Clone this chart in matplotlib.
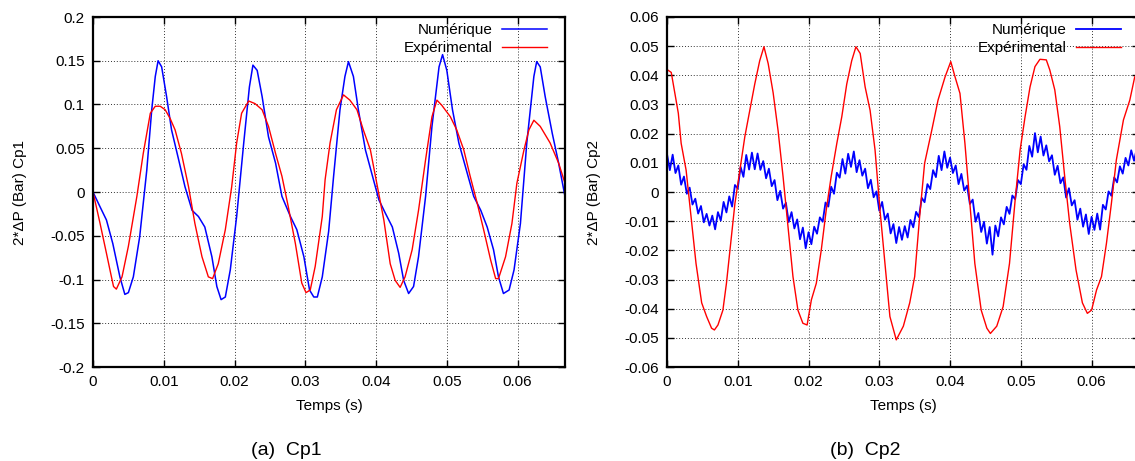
import numpy as np
import matplotlib
matplotlib.use("Agg")
import matplotlib.pyplot as plt
from matplotlib.ticker import FuncFormatter, MultipleLocator

plt.rcParams['font.family'] = ['Liberation Sans', 'DejaVu Sans']

# Cp1 - numerique
t_num1 = [0, 0.0010, 0.0019, 0.0028, 0.0038, 0.0045, 0.0050, 0.0057, 0.0066, 0.0076,
          0.0083, 0.0088, 0.0092, 0.0097, 0.0104, 0.0111, 0.0121, 0.0130, 0.0140, 0.0149,
          0.0158, 0.0168, 0.0175, 0.0181, 0.0187, 0.0194, 0.0203, 0.0213, 0.0221, 0.0226,
          0.0232, 0.0239, 0.0248, 0.0258, 0.0267, 0.0279, 0.0288, 0.0298, 0.0306, 0.0312,
          0.0317, 0.0324, 0.0333, 0.0340, 0.0349, 0.0356, 0.0361, 0.0368, 0.0375, 0.0385,
          0.0394, 0.0404, 0.0413, 0.0423, 0.0432, 0.0439, 0.0446, 0.0453, 0.0460, 0.0470,
          0.0479, 0.0489, 0.0494, 0.0500, 0.0508, 0.0517, 0.0529, 0.0538, 0.0548, 0.0557,
          0.0566, 0.0573, 0.0580, 0.0588, 0.0595, 0.0604, 0.0613, 0.0623, 0.0627, 0.0632,
          0.0639, 0.0649, 0.0658, 0.0667]
cp1_num = [0, -0.017, -0.032, -0.059, -0.097, -0.117, -0.115, -0.097, -0.051, 0.025,
           0.094, 0.132, 0.150, 0.143, 0.109, 0.071, 0.037, 0.006, -0.021, -0.028,
           -0.040, -0.074, -0.108, -0.123, -0.120, -0.089, -0.028, 0.056, 0.120, 0.145,
           0.139, 0.109, 0.063, 0.033, -0.005, -0.028, -0.043, -0.074, -0.112, -0.120,
           -0.120, -0.097, -0.045, 0.018, 0.094, 0.132, 0.149, 0.132, 0.094, 0.048,
           0.021, -0.009, -0.024, -0.040, -0.070, -0.101, -0.116, -0.108, -0.074, -0.005,
           0.075, 0.143, 0.157, 0.139, 0.094, 0.056, 0.021, -0.005, -0.021, -0.040,
           -0.066, -0.097, -0.116, -0.112, -0.089, -0.036, 0.056, 0.132, 0.149, 0.143,
           0.109, 0.067, 0.033, -0.005]

# Cp1 - experimental
t_exp1 = [0, 0.0010, 0.0019, 0.0025, 0.0029, 0.0033, 0.0041, 0.0050, 0.0062, 0.0071,
          0.0081, 0.0088, 0.0095, 0.0102, 0.0109, 0.0116, 0.0125, 0.0135, 0.0144, 0.0154,
          0.0163, 0.0169, 0.0177, 0.0187, 0.0196, 0.0203, 0.0210, 0.0220, 0.0229, 0.0239,
          0.0248, 0.0258, 0.0267, 0.0276, 0.0286, 0.0295, 0.0301, 0.0307, 0.0314, 0.0324,
          0.0328, 0.0335, 0.0344, 0.0354, 0.0363, 0.0373, 0.0382, 0.0392, 0.0401, 0.0411,
          0.0420, 0.0427, 0.0434, 0.0441, 0.0451, 0.0460, 0.0470, 0.0479, 0.0486, 0.0493,
          0.0505, 0.0514, 0.0524, 0.0533, 0.0543, 0.0552, 0.0562, 0.0569, 0.0573, 0.0583,
          0.0592, 0.0599, 0.0609, 0.0616, 0.0623, 0.0632, 0.0646, 0.0658, 0.0667]
cp1_exp = [0, -0.036, -0.070, -0.093, -0.108, -0.111, -0.097, -0.062, -0.005, 0.044,
           0.090, 0.098, 0.098, 0.094, 0.084, 0.071, 0.044, 0.006, -0.036, -0.074,
           -0.097, -0.099, -0.082, -0.043, 0.006, 0.056, 0.090, 0.104, 0.101, 0.094,
           0.075, 0.044, 0.018, -0.017, -0.059, -0.104, -0.115, -0.112, -0.085, -0.028,
           0.014, 0.056, 0.094, 0.111, 0.105, 0.094, 0.071, 0.048, 0.010, -0.032,
           -0.082, -0.101, -0.109, -0.097, -0.066, -0.021, 0.037, 0.086, 0.105, 0.099,
           0.086, 0.071, 0.048, 0.018, -0.013, -0.043, -0.078, -0.099, -0.099, -0.074,
           -0.036, 0.010, 0.048, 0.071, 0.082, 0.075, 0.056, 0.033, 0.010]

# Cp2 - numerique (echantillonnage 0.4 ms)
dt_num2 = 0.0004
cp2_num = [0.0130, 0.0075, 0.0128, 0.0065, 0.0091, 0.0025, 0.0053, -0.0006, 0.0015, -0.0043,
           -0.0023, -0.0074, -0.0048, -0.0104, -0.0075, -0.0115, -0.0081, -0.0128, -0.0069, -0.0098,
           -0.0034, -0.0070, -0.0015, -0.0050, 0.0024, 0.0012, 0.0086, 0.0052, 0.0127, 0.0077,
           0.0135, 0.0078, 0.0132, 0.0076, 0.0106, 0.0047, 0.0080, 0.0020, 0.0041, -0.0028,
           0.0004, -0.0057, -0.0037, -0.0103, -0.0069, -0.0125, -0.0094, -0.0162, -0.0122, -0.0193,
           -0.0138, -0.0179, -0.0119, -0.0143, -0.0087, -0.0102, -0.0036, -0.0050, 0.0018, -0.0006,
           0.0066, 0.0049, 0.0113, 0.0063, 0.0131, 0.0086, 0.0139, 0.0068, 0.0109, 0.0056,
           0.0080, 0.0013, 0.0042, -0.0018, 0.0002, -0.0064, -0.0034, -0.0095, -0.0074, -0.0142,
           -0.0110, -0.0175, -0.0120, -0.0164, -0.0117, -0.0156, -0.0096, -0.0121, -0.0068, -0.0086,
           -0.0020, -0.0035, 0.0027, 0.0010, 0.0075, 0.0051, 0.0124, 0.0075, 0.0139, 0.0083,
           0.0118, 0.0065, 0.0091, 0.0027, 0.0062, 0.0005, 0.0022, -0.0041, -0.0026, -0.0102,
           -0.0072, -0.0137, -0.0102, -0.0177, -0.0120, -0.0215, -0.0115, -0.0152, -0.0087, -0.0111,
           -0.0051, -0.0075, -0.0012, -0.0025, 0.0041, 0.0027, 0.0095, 0.0076, 0.0158, 0.0121,
           0.0202, 0.0136, 0.0190, 0.0125, 0.0160, 0.0105, 0.0126, 0.0059, 0.0090, 0.0030,
           0.0050, -0.0019, 0.0013, -0.0046, -0.0028, -0.0095, -0.0057, -0.0119, -0.0077, -0.0144,
           -0.0085, -0.0130, -0.0074, -0.0129, -0.0044, -0.0060, 0.0002, -0.0013, 0.0050, 0.0033,
           0.0088, 0.0063, 0.0117, 0.0091, 0.0143, 0.0107, 0.0151, 0.0115]

# Cp2 - experimental
t_exp2 = [0, 0.0006, 0.0011, 0.0016, 0.0020, 0.0027, 0.0034, 0.0041, 0.0049, 0.0056,
          0.0063, 0.0067, 0.0072, 0.0079, 0.0084, 0.0090, 0.0096, 0.0103, 0.0110, 0.0117,
          0.0124, 0.0131, 0.0137, 0.0143, 0.0150, 0.0157, 0.0164, 0.0171, 0.0178, 0.0185,
          0.0192, 0.0198, 0.0204, 0.0211, 0.0218, 0.0225, 0.0232, 0.0240, 0.0247, 0.0254,
          0.0261, 0.0267, 0.0273, 0.0280, 0.0287, 0.0294, 0.0301, 0.0308, 0.0315, 0.0324,
          0.0334, 0.0343, 0.0350, 0.0357, 0.0364, 0.0374, 0.0383, 0.0393, 0.0401, 0.0407,
          0.0414, 0.0421, 0.0428, 0.0435, 0.0444, 0.0452, 0.0457, 0.0466, 0.0475, 0.0484,
          0.0492, 0.0499, 0.0506, 0.0513, 0.0520, 0.0527, 0.0536, 0.0541, 0.0548, 0.0555,
          0.0562, 0.0569, 0.0578, 0.0587, 0.0594, 0.0600, 0.0607, 0.0614, 0.0621, 0.0628,
          0.0635, 0.0645, 0.0654, 0.0661, 0.0667]
cp2_exp = [0.042, 0.041, 0.034, 0.027, 0.0167, 0.0075, -0.0085, -0.0245, -0.038, -0.0427,
           -0.0467, -0.0473, -0.0456, -0.0405, -0.0313, -0.0176, -0.0039, 0.0075, 0.019, 0.028,
           0.037, 0.045, 0.0498, 0.044, 0.034, 0.021, 0.0053, -0.0119, -0.029, -0.0405,
           -0.045, -0.0456, -0.037, -0.0313, -0.0199, -0.0062, 0.0053, 0.0167, 0.0258, 0.037,
           0.045, 0.0498, 0.0475, 0.036, 0.028, 0.0144, -0.0062, -0.0245, -0.0427, -0.0507,
           -0.046, -0.038, -0.029, -0.0085, 0.0098, 0.021, 0.0315, 0.0395, 0.0447, 0.0395,
           0.0338, 0.0167, -0.0039, -0.0245, -0.0405, -0.0467, -0.0485, -0.046, -0.0393, -0.0245,
           -0.0027, 0.0144, 0.0258, 0.036, 0.043, 0.0455, 0.0453, 0.0418, 0.035, 0.0224,
           0.0053, -0.0107, -0.0267, -0.038, -0.0416, -0.0405, -0.0336, -0.029, -0.0176, -0.0039,
           0.011, 0.0247, 0.0315, 0.0395, 0.041]

xticks = [0, 0.01, 0.02, 0.03, 0.04, 0.05, 0.06]
t_num2 = np.arange(len(cp2_num)) * dt_num2

fig = plt.figure(figsize=(11.35, 4.61), dpi=100)
ax1 = fig.add_axes([93 / 1135, 94 / 461, 472 / 1135, 350 / 461])
ax2 = fig.add_axes([667 / 1135, 94 / 461, 472 / 1135, 350 / 461])

fmt = FuncFormatter(lambda v, p: '%g' % round(v, 6))

panels = [
    (ax1, t_num1, cp1_num, 1.1, t_exp1, cp1_exp, (-0.2, 0.2), 0.05, '2*ΔP (Bar) Cp1', '(a)  Cp1', 286),
    (ax2, t_num2, cp2_num, 1.3, t_exp2, cp2_exp, (-0.06, 0.06), 0.01, '2*ΔP (Bar) Cp2', '(b)  Cp2', 865),
]

for ax, tn, yn, lwn, te, ye, ylim, ystep, ylab, caption, cx in panels:
    ax.plot(tn, yn, color='#0000ff', lw=lwn, label='Numérique')
    ax.plot(te, ye, color='#ff0000', lw=1.0, label='Expérimental')
    ax.set_xlim(0, 0.0667)
    ax.set_ylim(*ylim)
    ax.set_xticks(xticks)
    ax.yaxis.set_major_locator(MultipleLocator(ystep))
    ax.xaxis.set_major_formatter(fmt)
    ax.yaxis.set_major_formatter(fmt)
    ax.tick_params(direction='in', length=5, width=1, top=True, right=True,
                   labelsize=11, pad=6)
    ax.grid(True, color='#333333', linestyle=(0, (1, 2)), lw=0.7)
    for s in ax.spines.values():
        s.set_linewidth(1.6)
    ax.set_xlabel('Temps (s)', fontsize=11)
    ax.xaxis.set_label_coords(0.5, -32 / 350)
    ax.set_ylabel(ylab, fontsize=11)
    ax.yaxis.set_label_coords(-66 / 472, 0.5)
    ax.legend(loc='upper right', bbox_to_anchor=(0.974, 1.0), frameon=False,
              markerfirst=False, fontsize=11, handlelength=2.95, handletextpad=0.6,
              labelspacing=0.25, borderaxespad=0.0, borderpad=0.4)
    fig.text(cx / 1135, 1 - 450 / 461, caption, ha='center', va='center', fontsize=14)

fig.savefig('out.png', dpi=100)
